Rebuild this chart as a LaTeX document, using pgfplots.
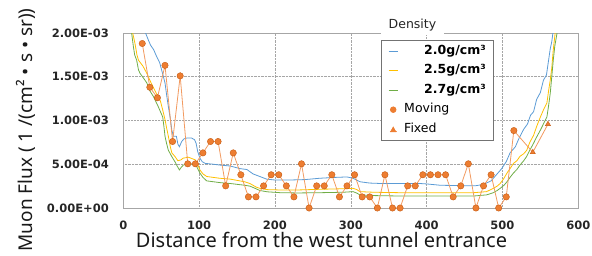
\documentclass[border=0pt]{standalone}
\usepackage{pgfplots}
\pgfplotsset{compat=1.18}
\usepackage{fontspec}
\setmainfont{DejaVu Sans}
\newfontfamily\notosans{Noto Sans}
\definecolor{cBlue}{HTML}{5B9BD5}
\definecolor{cYel}{HTML}{FFC000}
\definecolor{cGreen}{HTML}{70AD47}
\definecolor{cOra}{HTML}{ED7D31}
\definecolor{cOraD}{HTML}{C55A11}
\definecolor{cOraL}{HTML}{F29A60}
\begin{document}
\begin{tikzpicture}
\path[use as bounding box] (0,0) rectangle (592pt,255pt);
\begin{axis}[
  at={(123.3pt,47pt)}, anchor=south west,
  scale only axis, width=455pt, height=175pt,
  xmin=0, xmax=600, ymin=0, ymax=0.002,
  xtick={0,100,200,300,400,500,600},
  xticklabels={0,100,200,300,400,500,600},
  ytick={0,0.0005,0.0015,0.002},
  yticklabels={0.00E+00,5.00E-04,1.50E-03,2.00E-03},
  extra y ticks={0.001},
  extra y tick labels={1.00E-03},
  extra y tick style={grid style={black!75, dash pattern=on 1pt off 1pt, line width=0.5pt}},
  scaled y ticks=false,
  major tick length=0pt,
  ticklabel style={font=\bfseries\fontsize{11.5}{13}\selectfont, text=black!85},
  yticklabel style={xshift=-11pt},
  xticklabel style={yshift=-9pt},
  grid=major,
  major grid style={densely dotted, black!35, line width=0.6pt},
  axis line style={black!35, line width=0.8pt},
  xlabel={Distance from the west tunnel entrance},
  xlabel style={at={(axis description cs:0.4356,-0.226)}, anchor=base, inner sep=0pt, text depth=0pt, font=\notosans\fontsize{20}{22}\selectfont, text=black!90},
  ylabel={Muon Flux ( 1 /(cm² • s • sr))},
  ylabel style={at={(axis description cs:-0.1985,0.446)}, anchor=base, inner sep=0pt, font=\notosans\fontsize{19}{21}\selectfont, text=black!90},
  legend style={at={(0.5664,0.96)}, anchor=north west, draw=black!55, fill=white,
    inner xsep=7pt, inner ysep=5pt, row sep=7.5pt,
    font=\fontsize{12.5}{14}\selectfont,
    nodes={inner sep=0pt, text height=9pt, text depth=3pt},
    /tikz/every odd column/.style={column sep=6pt}},
  legend cell align=left,
]
\addplot[cBlue, line width=0.8pt, legend image code/.code={\draw[cBlue,line width=1pt] (0pt,0pt)--(9pt,0pt);}] coordinates {
(22,24e-4)(28,20.3e-4)(33,19.2e-4)(36,18.6e-4)(40,18.1e-4)(44,17.3e-4)(48,16.6e-4)(52,15.3e-4)(55,14.3e-4)(57,13.0e-4)(59.4,11.6e-4)(62,10.2e-4)(64,8.9e-4)(66,8.2e-4)(70,8.2e-4)(72,7.3e-4)(74,7.0e-4)(77,7.6e-4)(80,7.9e-4)(84,8.0e-4)(90,8.0e-4)(94,7.8e-4)(96,7.4e-4)(98,6.5e-4)(101,5.7e-4)(104,5.3e-4)(108,5.1e-4)(119,5.0e-4)(128,4.9e-4)(141,4.8e-4)(154,4.5e-4)(163,4.4e-4)(171,3.9e-4)(180,3.6e-4)(189,3.3e-4)(200,3.2e-4)(220,3.2e-4)(240,3.25e-4)(259,3.4e-4)(280,3.5e-4)(295,3.55e-4)(303,3.4e-4)(312,3.0e-4)(325,2.85e-4)(340,2.8e-4)(365,2.8e-4)(391,2.8e-4)(400,2.75e-4)(418,2.6e-4)(448,2.55e-4)(465,2.55e-4)(475,2.7e-4)(485,3.1e-4)(492,3.8e-4)(499,4.5e-4)(505,5.3e-4)(510,6.3e-4)(517,7.0e-4)(522,8.0e-4)(528,9.0e-4)(533,9.6e-4)(537,10.6e-4)(541,11.0e-4)(545,12.4e-4)(550,13.2e-4)(554,14.6e-4)(558,15.2e-4)(561,17.0e-4)(563,18.2e-4)(565,19.0e-4)(568,21e-4)(570,24e-4)
};
\addlegendentry{\hspace{20pt}\textbf{2.0g/cm³}}
\addplot[cYel, line width=0.8pt, legend image code/.code={\draw[cYel,line width=1pt] (0pt,0pt)--(9pt,0pt);}] coordinates {
(10,23e-4)(12.4,20e-4)(15.4,18.8e-4)(18,17.5e-4)(20,16.9e-4)(26,16.2e-4)(31,15.4e-4)(35,14.6e-4)(40,13.7e-4)(46,12.7e-4)(49,12.2e-4)(52,11.2e-4)(55,10.1e-4)(57,9.2e-4)(59.4,8.2e-4)(62,7.0e-4)(64,6.3e-4)(68,5.9e-4)(72,5.4e-4)(76,5.5e-4)(79,5.7e-4)(86,5.8e-4)(92,5.6e-4)(95,5.5e-4)(98,5.0e-4)(101,4.35e-4)(105,3.9e-4)(110,3.6e-4)(127,3.4e-4)(141,3.3e-4)(160,3.0e-4)(167,2.8e-4)(175,2.4e-4)(180,2.25e-4)(190,2.1e-4)(207,2.06e-4)(230,2.06e-4)(260,2.14e-4)(290,2.2e-4)(303,2.25e-4)(308,2.1e-4)(312,1.87e-4)(330,1.8e-4)(365,1.75e-4)(427,1.75e-4)(462,1.75e-4)(479,1.87e-4)(488,2.25e-4)(493,2.5e-4)(497,2.8e-4)(502,3.4e-4)(506,4.0e-4)(510,4.5e-4)(514.5,5.1e-4)(519,5.4e-4)(523,5.9e-4)(528,6.2e-4)(532,6.6e-4)(536,7.5e-4)(541,8.3e-4)(545,9.3e-4)(550,10.4e-4)(554,11.2e-4)(558.6,12.0e-4)(561,13.5e-4)(563,14.6e-4)(565,16.0e-4)(567,18.1e-4)(569.5,20e-4)(571,23e-4)
};
\addlegendentry{\hspace{20pt}\textbf{2.5g/cm³}}
\addplot[cGreen, line width=0.8pt, legend image code/.code={\draw[cGreen,line width=1pt] (0pt,0pt)--(9pt,0pt);}] coordinates {
(9,23e-4)(11,20e-4)(13.2,18.5e-4)(15,17.5e-4)(17.6,16.9e-4)(20,15.8e-4)(22,15.4e-4)(27,14.8e-4)(31,14.3e-4)(35,13.4e-4)(40,12.7e-4)(46,11.6e-4)(49,11.0e-4)(52,10.4e-4)(54,9.0e-4)(55,8.2e-4)(57,7.4e-4)(59.4,6.6e-4)(63.8,5.9e-4)(68,5.3e-4)(71,4.8e-4)(74,4.35e-4)(76,4.6e-4)(79,4.9e-4)(88,5.1e-4)(94,4.9e-4)(97,4.7e-4)(101,4.0e-4)(105,3.5e-4)(110,3.1e-4)(127.6,2.9e-4)(141,2.8e-4)(160,2.6e-4)(167,2.5e-4)(175,2.2e-4)(180,2.0e-4)(190,1.85e-4)(207,1.75e-4)(230,1.72e-4)(260,1.75e-4)(290,1.8e-4)(303,1.87e-4)(308,1.7e-4)(312,1.5e-4)(330,1.42e-4)(365,1.37e-4)(430,1.37e-4)(462,1.37e-4)(479,1.5e-4)(488,1.75e-4)(493,2.0e-4)(497,2.25e-4)(502,2.6e-4)(506,3.0e-4)(510,3.5e-4)(514.5,4.0e-4)(519,4.4e-4)(523,4.9e-4)(528,5.4e-4)(532,5.9e-4)(536,6.6e-4)(541,7.4e-4)(545,8.1e-4)(550,8.9e-4)(554,9.6e-4)(558.6,10.4e-4)(561,11.8e-4)(563,13.1e-4)(565,15.0e-4)(567,16.9e-4)(569,18.5e-4)(572,20e-4)(574,23e-4)
};
\addlegendentry{\hspace{20pt}\textbf{2.7g/cm³}}
\addplot[cOraL, line width=0.8pt, mark=*, mark size=3.2pt, mark options={fill=cOra, draw=cOraD, line width=0.4pt},
  legend image code/.code={\fill[cOra] (4.5pt,0pt) circle (2.8pt);}] coordinates {
(25,18.8e-4)(35,13.8e-4)(45,12.6e-4)(55,16.3e-4)(65,7.6e-4)(75,15.1e-4)(85,5.05e-4)(95,5.05e-4)(105,6.3e-4)(115,7.6e-4)
(125,7.6e-4)(135,2.53e-4)(145,6.3e-4)(155,3.8e-4)(165,1.27e-4)(175,1.27e-4)(185,2.53e-4)(195,3.8e-4)(205,3.8e-4)(215,2.53e-4)
(225,1.27e-4)(235,5.05e-4)(245,0)(255,2.53e-4)(265,2.53e-4)(275,3.8e-4)(285,1.27e-4)(295,2.53e-4)(305,3.8e-4)(315,1.27e-4)
(325,1.27e-4)(335,0)(345,3.8e-4)(355,0)(365,0)(375,2.53e-4)(385,2.53e-4)(395,3.8e-4)(405,3.8e-4)(415,3.8e-4)
(425,3.8e-4)(435,1.27e-4)(445,2.53e-4)(455,5.05e-4)(465,0)(475,2.53e-4)(485,3.8e-4)(495,0)(505,1.27e-4)(515,8.85e-4)
};
\addlegendentry{Moving}
\addplot[cOraL, line width=0.8pt, mark=triangle*, mark size=3pt, mark indices={2,3}, mark options={fill=cOra, draw=cOraD, line width=0.4pt},
  legend image code/.code={\draw[cOraL,line width=0.8pt] (1pt,-2pt)--(8pt,-2pt); \fill[cOra] (2pt,-2.5pt)--(7pt,-2.5pt)--(4.5pt,2pt)--cycle;}] coordinates {
(515,8.85e-4)(540,6.37e-4)(560,9.58e-4)
};
\addlegendentry{Fixed}
\end{axis}
\node[fill=white, inner sep=0pt, minimum width=63pt, minimum height=20pt, font=\fontsize{12.5}{14}\selectfont, text=black!85] at (412.5pt,230pt) {Density};
\end{tikzpicture}
\end{document}
